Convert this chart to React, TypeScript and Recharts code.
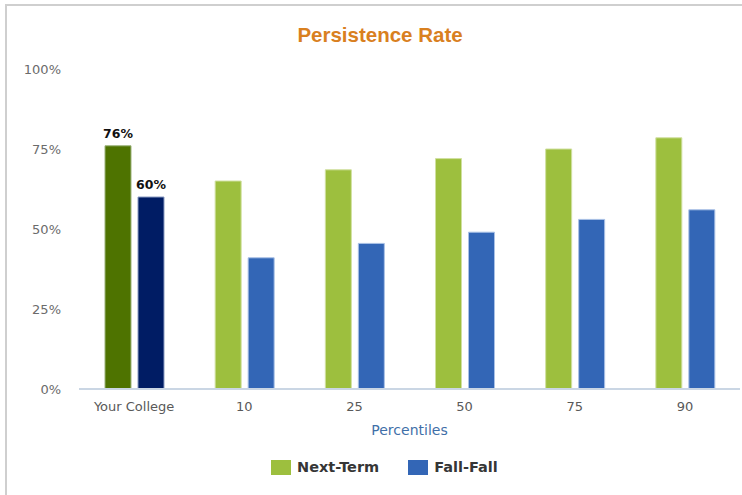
import React from "react";
import { BarChart, Bar, XAxis, YAxis, Cell, LabelList } from "recharts";

const categories = ["Your College", "10", "25", "50", "75", "90"];
const nextTerm = [76, 65, 68.5, 72, 75, 78.5];
const fallFall = [60, 41, 45.5, 49, 53, 56];
const yTicks = [0, 25, 50, 75, 100];

const series = [
  { key: "nextTerm", name: "Next-Term", fill: "#9dbf3e", stroke: "#d0e0a0", ownFill: "#4e7300", ownStroke: "#9bb27a" },
  { key: "fallFall", name: "Fall-Fall", fill: "#3366b6", stroke: "#a9c1e6", ownFill: "#001c64", ownStroke: "#8a9bc2" },
];

const data = categories.map((c, i) => ({
  category: c,
  nextTerm: nextTerm[i],
  fallFall: fallFall[i],
}));

const FONT = "'DejaVu Sans', sans-serif";

// value labels only over the "Your College" bars
function OwnLabel(props: any) {
  const { x, y, width, value, index } = props;
  if (index !== 0) return null;
  return (
    <text
      x={Number(x) + Number(width) / 2}
      y={Number(y) - 8}
      textAnchor="middle"
      fontSize={12.5}
      fontWeight="bold"
      fill="#111"
      fontFamily={FONT}
    >
      {Math.round(value)}%
    </text>
  );
}

export default function App() {
  return (
    <div
      style={{
        position: "absolute",
        left: 0,
        top: 0,
        width: 742,
        height: 495,
        background: "#fff",
        overflow: "hidden",
        fontFamily: FONT,
      }}
    >
      <div
        style={{
          position: "absolute",
          left: 5,
          top: 4,
          width: 800,
          height: 600,
          borderLeft: "2px solid #cfcfcf",
          borderTop: "2px solid #cfcfcf",
        }}
      />
      <div
        style={{
          position: "absolute",
          left: 0,
          top: 24,
          width: 760,
          textAlign: "center",
          fontFamily: "'Liberation Sans', Arial, sans-serif",
          fontSize: 20.5,
          lineHeight: "21px",
          fontWeight: "bold",
          color: "#d9801f",
        }}
      >
        Persistence Rate
      </div>
      <div style={{ position: "absolute", left: 0, top: 0 }}>
        <BarChart
          width={742}
          height={495}
          data={data}
          margin={{ top: 69, right: 2, bottom: 56, left: 0 }}
          barSize={26}
          barGap={7}
        >
          <XAxis
            dataKey="category"
            height={50}
            tickLine={false}
            tickSize={0}
            tickMargin={13}
            axisLine={{ stroke: "#cad6e4", strokeWidth: 2 }}
            tick={{ fontSize: 13, fill: "#595959", fontFamily: FONT }}
            label={{
              value: "Percentiles",
              position: "insideBottom",
              offset: 4,
              fill: "#3f6fa8",
              fontSize: 14,
              fontFamily: FONT,
            }}
          />
          <YAxis
            width={79}
            domain={[0, 100]}
            ticks={yTicks}
            tickFormatter={(v: number) => `${v}%`}
            axisLine={false}
            tickLine={false}
            tickSize={0}
            tickMargin={18}
            tick={{ fontSize: 13, fill: "#6b6b6b", fontFamily: FONT }}
          />
          {series.map((s) => (
            <Bar key={s.key} dataKey={s.key} name={s.name} fill={s.fill} stroke={s.stroke} strokeWidth={1} isAnimationActive={false}>
              {data.map((d, i) => (
                <Cell key={d.category} fill={i === 0 ? s.ownFill : s.fill} stroke={i === 0 ? s.ownStroke : s.stroke} />
              ))}
              <LabelList dataKey={s.key} content={OwnLabel} />
            </Bar>
          ))}
        </BarChart>
      </div>
      <div
        style={{
          position: "absolute",
          left: 271,
          top: 460,
          display: "flex",
          alignItems: "center",
          height: 15,
        }}
      >
        {series.map((s) => (
          <div key={s.key} style={{ display: "flex", alignItems: "center", marginRight: 29 }}>
            <div style={{ width: 20, height: 15, background: s.fill, marginRight: 6 }} />
            <span style={{ fontSize: 14.5, fontWeight: "bold", color: "#363636", lineHeight: "15px" }}>{s.name}</span>
          </div>
        ))}
      </div>
    </div>
  );
}
